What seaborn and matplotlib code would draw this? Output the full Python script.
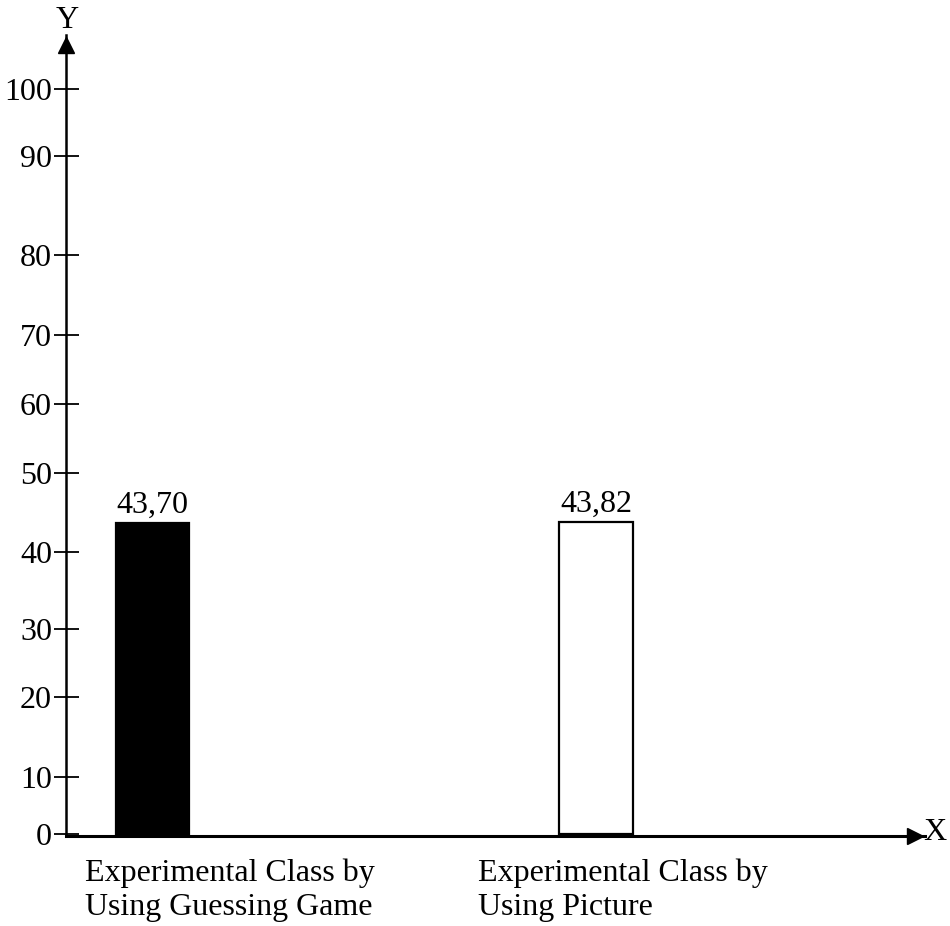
import numpy as np
import pandas as pd
import matplotlib
matplotlib.use("Agg")
import matplotlib.pyplot as plt
import seaborn as sns

# data
groups = ["Experimental Class by\nUsing Guessing Game",
          "Experimental Class by\nUsing Picture"]
scores = [43.70, 43.82]
score_labels = ["43,70", "43,82"]
bar_colors = ["black", "white"]
y_ticks = [0, 10, 20, 30, 40, 50, 60, 70, 80, 90, 100]

# the hand drawn axis has uneven spacing between ticks -> piecewise scale
knot_vals = np.array([-20, 0, 10, 20, 30, 40, 50, 60, 70, 80, 90, 100, 130])
knot_pos = -np.array([946, 834, 777, 697, 629, 552, 473, 404, 335, 255, 156, 89, -112], dtype=float)


def fwd(v):
    return np.interp(v, knot_vals, knot_pos)


def inv(t):
    return np.interp(t, knot_pos, knot_vals)


sns.set_theme(style="white")
plt.rcParams["font.family"] = ["Liberation Serif", "DejaVu Serif"]
plt.rcParams["text.color"] = "black"
plt.rcParams["axes.labelcolor"] = "black"
plt.rcParams["ytick.color"] = "black"

W, H = 950, 926
fig = plt.figure(figsize=(W / 100, H / 100), dpi=100)
ax_left, ax_right, ax_top, ax_bottom = 66, 925, 35, 836
ax = fig.add_axes([ax_left / W, 1 - ax_bottom / H,
                   (ax_right - ax_left) / W, (ax_bottom - ax_top) / H])

df = pd.DataFrame({"group": groups, "score": scores})
sns.barplot(data=df, x="group", y="score", hue="group", palette=bar_colors,
            edgecolor="black", linewidth=1.6, width=0.165, legend=False, ax=ax)

ax.set_yscale("function", functions=(fwd, inv))
ax.set_ylim(inv(-ax_bottom), inv(-ax_top))
px_per_unit = 443.5
ax.set_xlim(-86.5 / px_per_unit, (ax_right - ax_left - 86.5) / px_per_unit)

for cont, lab in zip(ax.containers, score_labels):
    ax.bar_label(cont, labels=[lab], padding=2, fontsize=23, color="black")

ax.set_yticks(y_ticks)
ax.set_yticklabels([str(t) for t in y_ticks], fontsize=23)
ax.tick_params(axis="y", direction="inout", length=18, width=1.3, pad=1, left=True, colors="black")
ax.set_xticks([])
ax.set_xlabel("")
ax.set_ylabel("")

for s in ["top", "right"]:
    ax.spines[s].set_visible(False)
ax.spines["left"].set_linewidth(1.8)
ax.spines["left"].set_color("black")
ax.spines["bottom"].set_linewidth(2.2)
ax.spines["bottom"].set_color("black")

# arrow heads
ax.plot(0, 0.987, marker="^", markersize=11, color="black", transform=ax.transAxes, clip_on=False)
ax.plot(0.988, 0, marker=">", markersize=11, color="black", transform=ax.transAxes, clip_on=False)
ax.text(0.002, 1.0, "Y", transform=ax.transAxes, ha="center", va="bottom", fontsize=23)
ax.text(0.998, 0.004, "X", transform=ax.transAxes, ha="left", va="center", fontsize=23)

# category labels (left aligned under bars, as in the original)
label_x = [(85 - ax_left - 86.5) / px_per_unit, (478 - ax_left - 86.5) / px_per_unit]
for lx, g in zip(label_x, groups):
    ax.text(lx, -0.028, g, transform=ax.get_xaxis_transform(), ha="left", va="top",
            fontsize=23, linespacing=1.25)

fig.savefig("out.png", dpi=100)
